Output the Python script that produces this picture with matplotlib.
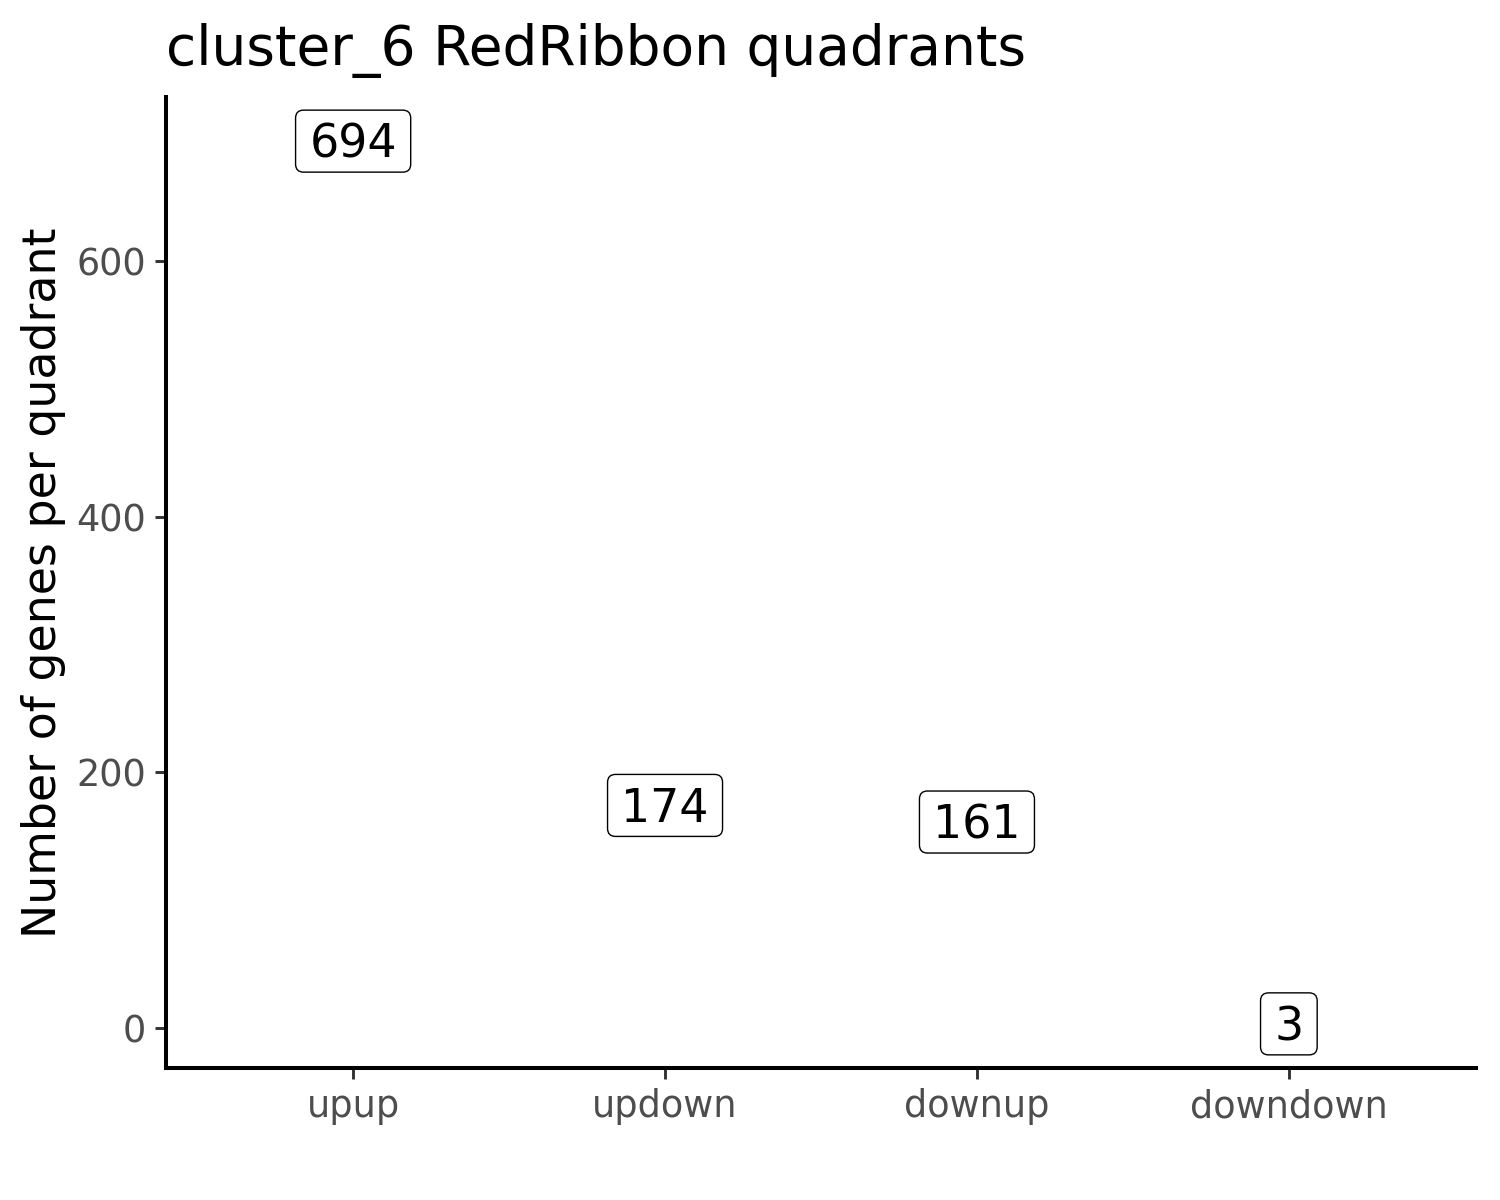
import matplotlib
matplotlib.use("Agg")
import matplotlib.pyplot as plt
from matplotlib.patches import FancyBboxPatch
from matplotlib.transforms import ScaledTranslation

categories = ["upup", "updown", "downup", "downdown"]
counts = [694, 174, 161, 3]
yticks = [0, 200, 400, 600]
title = "cluster_6 RedRibbon quadrants"
ylabel = "Number of genes per quadrant"

DPI = 100
fig = plt.figure(figsize=(15, 12), dpi=DPI)
ax = fig.add_axes([166/1500, 1 - 1068/1200, (1476-166)/1500, (1068-97)/1200])

xpos = list(range(1, len(categories) + 1))
lo, hi = min(counts), max(counts)
rng = hi - lo
ax.set_ylim(lo - 0.05 * rng, hi + 0.05 * rng)
ax.set_xlim(0.4, len(categories) + 0.6)

for s in ["top", "right"]:
    ax.spines[s].set_visible(False)
for s in ["left", "bottom"]:
    ax.spines[s].set_linewidth(2.9)
    ax.spines[s].set_color("black")
    ax.spines[s].set_capstyle("projecting")

ax.set_xticks(xpos)
ax.set_xticklabels(categories)
ax.set_yticks(yticks)
ax.tick_params(axis="both", length=8.0, width=2.1, color="#333333",
               labelcolor="#4D4D4D", labelsize=26.4, pad=6.6)

ax.set_ylabel(ylabel, fontsize=33, color="black", labelpad=7.5)
fig.text(166/1500, 1 - 65/1200, title, fontsize=39.6, ha="left", va="baseline")

fs = 33
pad_px = 13.75
box_h_px = 62
fig.canvas.draw()
renderer = fig.canvas.get_renderer()
for x, v in zip(xpos, counts):
    t = ax.annotate(str(v), (x, v), xytext=(0, -0.729 * fs / 2), textcoords="offset points",
                    ha="center", va="baseline", fontsize=fs, color="black", zorder=5)
    bb = t.get_window_extent(renderer)
    w_px = bb.width + 2 * pad_px
    w_in = w_px / DPI
    h_in = box_h_px / DPI
    tr = fig.dpi_scale_trans + ScaledTranslation(x, v, ax.transData)
    patch = FancyBboxPatch((-w_in / 2, -h_in / 2), w_in, h_in,
                           boxstyle="round,pad=0,rounding_size=0.08",
                           transform=tr, facecolor="white", edgecolor="black",
                           linewidth=1.0, zorder=4, clip_on=False)
    ax.add_patch(patch)

fig.savefig("out.png", dpi=DPI)
